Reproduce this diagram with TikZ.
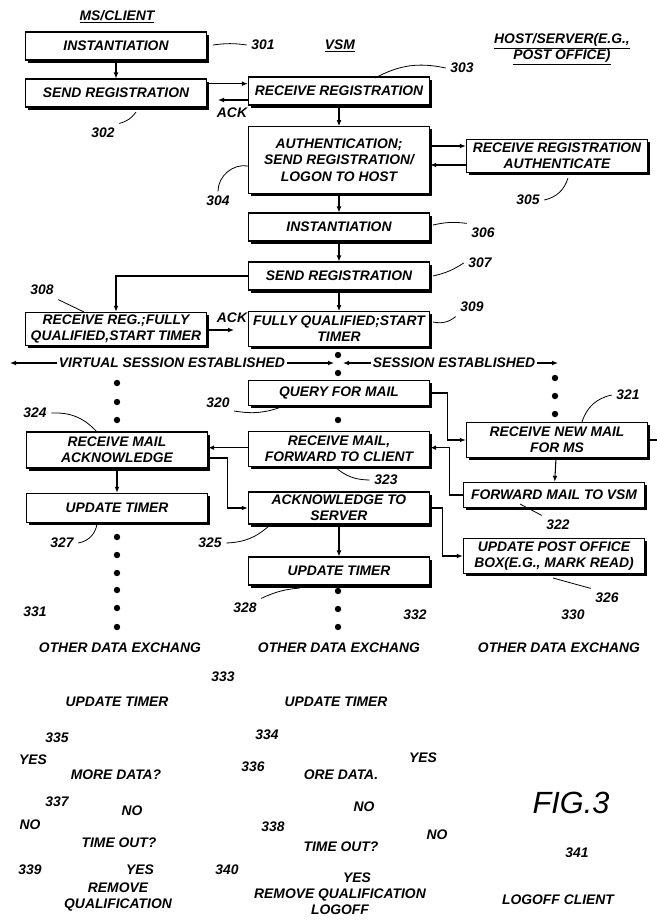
\documentclass[tikz,border=0pt]{standalone}
\usepackage{fontspec}
\setmainfont{Liberation Sans}
\usetikzlibrary{arrows.meta,calc,shadows}
\newcommand\figfont{\fontsize{10.4}{12.2}\selectfont\bfseries\itshape}
\tikzset{
  arr/.style={-{Latex[length=4.5pt,width=3.6pt]},line width=.8pt},
  box/.style={draw,line width=.8pt,fill=white,align=center,inner sep=1pt,
    minimum width=136pt,minimum height=21pt,
    drop shadow={shadow xshift=2pt,shadow yshift=-2pt,fill=black,opacity=1}},
  lead/.style={line width=.6pt},
  dot/.style={circle,fill,inner sep=1.7pt},
  txt/.style={inner sep=1pt}
}
\begin{document}
\begin{tikzpicture}[x=.75pt,y=-.75pt,every node/.style={font=\figfont}]
\useasboundingbox (0,0) rectangle (657,922);

% column heads
\node (msc) at (117,17) {\underline{MS/CLIENT}};
\node (vsm) at (340,46) {\underline{VSM}};
\node[align=center] (host) at (562,49) {\underline{HOST/SERVER(E.G.,}\\\underline{POST OFFICE)}};

% registration
\node[box] (inst1) at (116,46) {INSTANTIATION};
\node[box] (send1) at (116,93) {SEND REGISTRATION};
\node[box] (recreg) at (339,91) {RECEIVE REGISTRATION};
\node[box,minimum height=50pt] (auth) at (339,160) {AUTHENTICATION;\\SEND REGISTRATION/\\LOGON TO HOST};
\node[box,minimum height=25pt] (recauth) at (557,156) {RECEIVE REGISTRATION\\AUTHENTICATE};
\node[box] (inst2) at (339,227) {INSTANTIATION};
\node[box] (send2) at (339,276) {SEND REGISTRATION};
\node[box,minimum height=26pt] (fullq) at (339,329) {FULLY QUALIFIED;START\\TIMER};
\node[box,minimum height=25pt] (recq) at (116,329) {RECEIVE REG.;FULLY\\QUALIFIED,START TIMER};

\draw[arr] (inst1) -- (send1);
\draw[arr] ([yshift=7pt]send1.east) -- ([yshift=7pt]send1.east -| recreg.west);
\coordinate (ackend) at (218,100);
\draw[arr] (recreg.west |- ackend) -- (ackend);
\node (ack1) at (232,113) {ACK};
\draw[arr] (recreg) -- (auth);
\draw[arr] (auth.east |- 0,146) -- (recauth.west |- 0,146);
\draw[arr] (recauth.west |- 0,165) -- (auth.east |- 0,165);
\draw[arr] (auth) -- (inst2);
\draw[arr] (inst2) -- (send2);
\draw[arr] (send2) -- (fullq);
\draw[arr] (send2.west) -| (recq.north);
\coordinate (ack2end) at (234,330);
\draw[arr] (recq.east |- ack2end) -- (ack2end);
\node (ack2) at (232,318) {ACK};

% session
\node[txt] (vse) at (172,363) {VIRTUAL SESSION ESTABLISHED};
\coordinate (vsl) at (10,363);
\coordinate (vsr) at (334,363);
\draw[arr] (vse.west) -- (vsl);
\draw[arr] (vse.east) -- (vsr);
\node[txt] (se) at (454,363) {SESSION ESTABLISHED};
\coordinate (sel) at (343,363);
\coordinate (ser) at (558,363);
\draw[arr] (se.west) -- (sel);
\draw[arr] (se.east) -- (ser);

% mail
\node[box,minimum height=19pt] (query) at (339,393) {QUERY FOR MAIL};
\node[box,minimum height=26pt] (recmail) at (339,449) {RECEIVE MAIL,\\FORWARD TO CLIENT};
\node[box,minimum height=24pt] (ackserv) at (339,508) {ACKNOWLEDGE TO\\SERVER};
\node[box] (upd2) at (339,571) {UPDATE TIMER};
\node[box,minimum height=27pt] (recack) at (117,450) {RECEIVE MAIL\\ACKNOWLEDGE};
\node[box,minimum height=22pt] (upd1) at (117,508) {UPDATE TIMER};
\node[box,minimum height=26pt] (recnew) at (557,440) {RECEIVE NEW MAIL\\FOR MS};
\node[box,minimum height=19pt] (fwd) at (554,495) {FORWARD MAIL TO VSM};
\node[box,minimum height=26pt] (upo) at (554,556) {UPDATE POST OFFICE\\BOX(E.G., MARK READ)};

\draw[arr] (query.east) -- ++(17,0) |- (recnew.west);
\draw[arr] (recnew) -- (fwd);
\coordinate (stub) at (657,440);
\draw[line width=.8pt] (recnew.east) -- (stub);
\draw[arr] (fwd.west) -- ++(-13,0) |- ([yshift=1pt]recmail.east);
\draw[arr] ([yshift=1pt]recmail.west) -- ([yshift=1pt]recmail.west -| recack.east);
\draw[arr] ([yshift=-6pt]recack.east) -- ++(19,0) |- (ackserv.west);
\draw[arr] (recack) -- (upd1);
\draw[arr] (ackserv.east) -- ++(12,0) |- (upo.west);
\draw[arr] (ackserv) -- (upd2);

% dots
\foreach \y [count=\i] in {355,373,420,591,609,627}
  \node[dot] (dc\i) at (338,\y) {};
\foreach \y [count=\i] in {383,402,420,537,555,573,590,608,627}
  \node[dot] (dl\i) at (117,\y) {};
\foreach \y [count=\i] in {378,396,414}
  \node[dot] (dr\i) at (555,\y) {};

% reference numerals
\node (n301) at (263,45) {301};
\draw[lead] (213,45) to[bend left=8] (n301.west);
\node (n302) at (103,133) {302};
\draw[lead] (136,112) to[bend left=20] (n302.north east);
\node (n303) at (462,68) {303};
\draw[lead] (375,78) to[bend left=20] (n303.west);
\node (n304) at (218,201) {304};
\draw[lead] (248,166) to[bend right=50] (n304.north);
\node (n305) at (528,200) {305};
\draw[lead] (n305.east) to[bend right=30] (568,178);
\node (n306) at (483,233) {306};
\draw[lead] (433,225) to[bend left=10] (n306.north west);
\node (n307) at (480,263) {307};
\draw[lead] (433,276) to[bend right=10] (n307.west);
\node (n308) at (42,290) {308};
\draw[lead] (n308.south east) -- (84,312);
\node (n309) at (472,307) {309};
\draw[lead] (433,322) to[bend right=25] (n309.south west);
\node (n320) at (218,403) {320};
\draw[lead] (234,411) to[bend right=15] (284,406);
\node (n321) at (628,395) {321};
\draw[lead] (582,422) to[bend left=30] (n321.west);
\node (n322) at (558,525) {322};
\draw[lead] (520,504) -- (n322.north west);
\node (n323) at (386,480) {323};
\draw[lead] (335,467) to[bend right=20] (n323.west);
\node (n324) at (35,413) {324};
\draw[lead] (n324.east) to[bend left=25] (97,432);
\node (n325) at (210,543) {325};
\draw[lead] (n325.east) to[bend right=20] (270,525);
\node (n326) at (607,598) {326};
\draw[lead] (553,578) -- (n326.north west);
\node (n327) at (62,543) {327};
\draw[lead] (n327.east) to[bend right=35] (97,524);
\node (n328) at (245,608) {328};
\draw[lead] (n328.north east) to[bend left=10] (300,588);
\node (n330) at (573,615) {330};
\node (n331) at (35,612) {331};
\node (n332) at (415,615) {332};

% other data exchange
\node (ode1) at (120,648) {OTHER DATA EXCHANG};
\node (ode2) at (339,648) {OTHER DATA EXCHANG};
\node (ode3) at (559,648) {OTHER DATA EXCHANG};

% loose texts
\node (n333) at (223,677) {333};
\node (ut1) at (117,702) {UPDATE TIMER};
\node (ut2) at (336,702) {UPDATE TIMER};
\node (n335) at (57,738) {335};
\node (n334) at (267,735) {334};
\node (y1) at (33,760) {YES};
\node (md1) at (116,775) {MORE DATA?};
\node (n336) at (253,767) {336};
\node (md2) at (341,775) {ORE DATA.};
\node (y2) at (423,758) {YES};
\node (n337) at (57,802) {337};
\node (no1) at (132,811) {NO};
\node (no2) at (30,825) {NO};
\node (to1) at (119,843) {TIME OUT?};
\node (n338) at (273,827) {338};
\node (no3) at (364,807) {NO};
\node (to2) at (341,847) {TIME OUT?};
\node (no4) at (437,835) {NO};
\node (n339) at (30,870) {339};
\node (y3) at (140,870) {YES};
\node[align=center] (rq1) at (118,897) {REMOVE\\QUALIFICATION};
\node (n340) at (227,870) {340};
\node (y4) at (357,878) {YES};
\node[align=center] (rq2) at (340,902) {REMOVE QUALIFICATION\\LOGOFF};
\node[font=\fontsize{23}{24}\selectfont\itshape] (fig) at (571,803) {FIG.3};
\node (n341) at (577,853) {341};
\node (lc) at (558,900) {LOGOFF CLIENT};
\end{tikzpicture}
\end{document}
